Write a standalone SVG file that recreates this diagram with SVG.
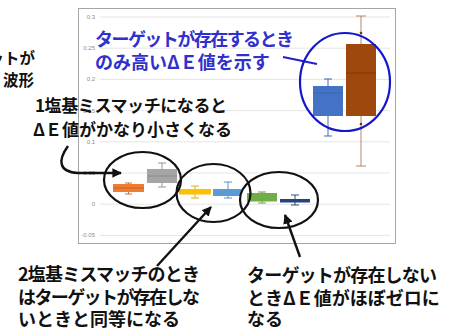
<svg xmlns="http://www.w3.org/2000/svg" width="454" height="331" viewBox="0 0 454 331">
<defs>
<style>
.ax{font-family:"Liberation Sans",Arial,sans-serif;font-size:6px;fill:#8c8c8c;text-anchor:end}
.grid{stroke:#dedede;stroke-width:0.8}
.jb{font-family:"Noto Sans CJK JP","Noto Sans",sans-serif;font-weight:bold;fill:#111}
.jblue{font-family:"Noto Sans CJK JP","Noto Sans",sans-serif;font-weight:bold;fill:#3030cc}
.wh{stroke-width:0.9;fill:none}
.ring{fill:none;stroke:#111;stroke-width:2.2}
.conn{fill:none;stroke:#111;stroke-width:2.4}
</style>
<marker id="ah" viewBox="0 0 10 10" refX="9" refY="5" markerWidth="4" markerHeight="4" orient="auto" markerUnits="strokeWidth">
<path d="M0,0 L10,5 L0,10 z" fill="#111"/>
</marker>
</defs>
<rect width="454" height="331" fill="#fff"/>

<g id="chart">
<rect x="78.5" y="8.5" width="317" height="235" fill="#fff" stroke="#a6a6a6" stroke-width="1"/>
<g class="gridlines">
<line class="grid" x1="100" y1="17" x2="390" y2="17"/>
<line class="grid" x1="100" y1="48.2" x2="390" y2="48.2"/>
<line class="grid" x1="100" y1="79.4" x2="390" y2="79.4"/>
<line class="grid" x1="100" y1="110.6" x2="390" y2="110.6"/>
<line class="grid" x1="100" y1="141.8" x2="390" y2="141.8"/>
<line class="grid" x1="100" y1="173" x2="390" y2="173"/>
<line class="grid" x1="100" y1="204.2" x2="390" y2="204.2"/>
<line class="grid" x1="100" y1="235.4" x2="390" y2="235.4"/>
</g>
<text class="ax" x="95" y="19">0.3</text>
<text class="ax" x="95" y="50">0.25</text>
<text class="ax" x="95" y="81">0.2</text>
<text class="ax" x="95" y="112.5">0.15</text>
<text class="ax" x="95" y="144">0.1</text>
<text class="ax" x="95" y="175">0.05</text>
<text class="ax" x="95" y="206">0</text>
<text class="ax" x="95" y="237">-0.05</text>

<g id="box1" stroke="#c9611f">
<path class="wh" d="M128.5,183 V194 M125,183 H132 M125,194 H132"/>
<rect x="113" y="184" width="31" height="8" fill="#ed7d31" stroke="none"/>
<path class="wh" d="M113,188 H144"/>
</g>
<g id="box2" stroke="#8a8a8a">
<path class="wh" d="M162,163 V187 M158,163 H166 M158,187 H166"/>
<rect x="147" y="169" width="30" height="14" fill="#a5a5a5" stroke="none"/>
<path class="wh" d="M147,176 H177"/>
</g>
<g id="box3" stroke="#d9a300">
<path class="wh" d="M195,186 V198 M191,186 H199 M191,198 H199"/>
<rect x="179" y="189" width="32" height="5.5" fill="#ffc000" stroke="none"/>
</g>
<g id="box4" stroke="#3f86c8">
<path class="wh" d="M228,182 V198 M224,182 H232 M224,198 H232"/>
<rect x="213" y="189" width="28" height="7" fill="#5b9bd5" stroke="none"/>
</g>
<g id="box5" stroke="#5a9636">
<path class="wh" d="M262,192 V203 M258,192 H266 M258,203 H266"/>
<rect x="247" y="193" width="30" height="8.5" fill="#70ad47" stroke="none"/>
</g>
<g id="box6" stroke="#1e3a6b">
<path class="wh" d="M295,195 V205 M291,195 H299 M291,205 H299"/>
<rect x="280" y="199" width="30" height="3.5" fill="#264478" stroke="none"/>
</g>
<g id="box7" stroke="#2f5ea8">
<path class="wh" d="M328,79 V136 M324,79 H332 M324,136 H332"/>
<rect x="313" y="86" width="30" height="30" fill="#4472c4" stroke="none"/>
<path class="wh" d="M313,93 H343" stroke="#3a64b0"/>
</g>
<g id="box8" stroke="#b07a5a">
<path class="wh" d="M361,16 V166 M356,16 H366 M356,166 H366"/>
<rect x="346" y="44" width="30" height="72" fill="#9e480e" stroke="none"/>
<path class="wh" d="M346,73 H376" stroke="#7a3509"/>
<circle cx="361" cy="33" r="1.3" fill="#7a3509" stroke="none"/>
<circle cx="361" cy="124" r="1.3" fill="#7a3509" stroke="none"/>
</g>
</g>

<g id="connectors">
<line x1="283" y1="57" x2="317" y2="64" stroke="#2020cc" stroke-width="2"/>
<path class="conn" d="M68,146 C58,160 58,172 78,173 L121,173" marker-end="url(#ah)"/>
<line class="conn" x1="157" y1="266" x2="211" y2="207" marker-end="url(#ah)"/>
<line class="conn" x1="300" y1="257" x2="285" y2="215" marker-end="url(#ah)"/>
</g>

<g id="ring-high"><ellipse cx="345" cy="82" rx="45" ry="49" fill="none" stroke="#1515cc" stroke-width="2.2"/></g>
<g id="ring-1mm"><ellipse class="ring" cx="142.5" cy="180" rx="38.5" ry="28"/></g>
<g id="ring-2mm"><ellipse class="ring" cx="213.5" cy="193" rx="37" ry="29"/></g>
<g id="ring-none"><ellipse class="ring" cx="279" cy="200" rx="39" ry="28"/></g>

<g id="note-top-left">
<text class="jb" x="35" y="64" font-size="15.5" text-anchor="end">ットが</text>
<text class="jb" x="34" y="86" font-size="15.5" text-anchor="end">波形</text>
</g>
<g id="note-high">
<text class="jblue" x="95" y="46" font-size="18" textLength="199" lengthAdjust="spacing">ターゲットが存在するとき</text>
<text class="jblue" x="95" y="69" font-size="18">のみ高いΔＥ値を示す</text>
</g>
<g id="note-1mm">
<text class="jb" x="35" y="112" font-size="17" textLength="192" lengthAdjust="spacing">1塩基ミスマッチになると</text>
<text class="jb" x="33" y="136" font-size="17">ΔＥ値がかなり小さくなる</text>
</g>
<g id="note-2mm">
<text class="jb" x="18" y="281" font-size="18" textLength="182" lengthAdjust="spacing">2塩基ミスマッチのとき</text>
<text class="jb" x="18" y="304" font-size="18" textLength="182" lengthAdjust="spacing">はターゲットが存在しな</text>
<text class="jb" x="18" y="326" font-size="18">いときと同等になる</text>
</g>
<g id="note-none">
<text class="jb" x="247" y="282" font-size="18" textLength="190" lengthAdjust="spacing">ターゲットが存在しない</text>
<text class="jb" x="247" y="305" font-size="18">ときΔＥ値がほぼゼロに</text>
<text class="jb" x="247" y="326" font-size="18">なる</text>
</g>
</svg>
